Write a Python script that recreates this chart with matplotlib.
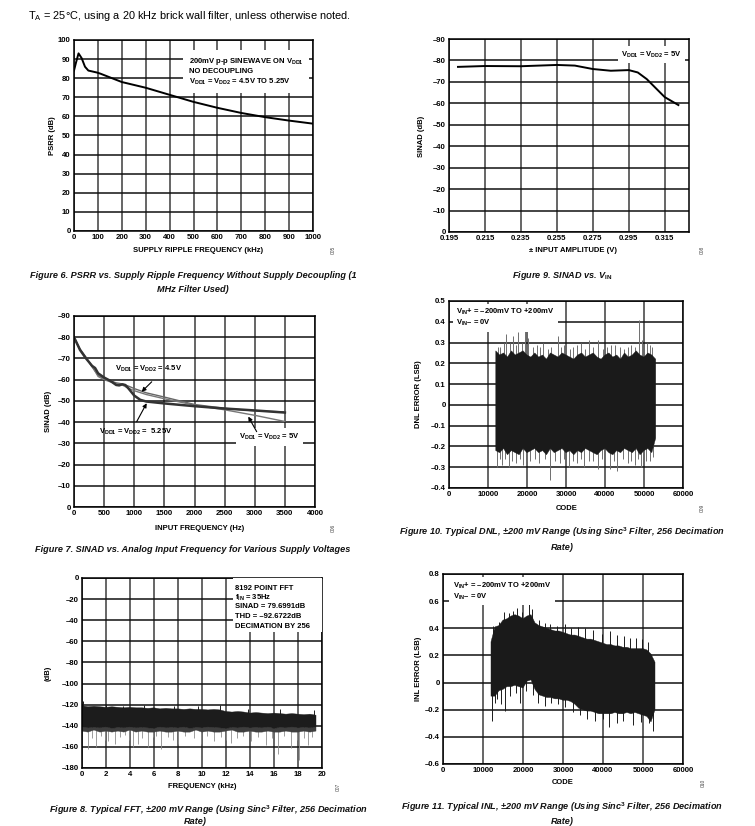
import numpy as np
import matplotlib
matplotlib.use("Agg")
import matplotlib.pyplot as plt
from matplotlib.patches import Rectangle

plt.rcParams['font.family'] = ['Liberation Sans', 'DejaVu Sans']
plt.rcParams['mathtext.fontset'] = 'custom'
plt.rcParams['mathtext.rm'] = 'Liberation Sans'
plt.rcParams['mathtext.bf'] = 'Liberation Sans:bold'
plt.rcParams['mathtext.it'] = 'Liberation Sans:italic'
plt.rcParams['mathtext.default'] = 'bf'

NARROW = ['Liberation Sans Narrow', 'Liberation Sans', 'DejaVu Sans']

# --- Figure 6: PSRR vs supply ripple frequency
psrr_f = [0, 8, 19, 32, 46, 60, 95, 110, 200, 300, 400, 500, 600, 700, 800, 900, 1000]
psrr_db = [84, 88, 93, 90.5, 86, 84, 83, 82.4, 78, 75, 71.3, 67.6, 64.5, 61.8, 59.6, 57.8, 56.2]

# --- Figure 9: SINAD vs input amplitude
vin = [0.200, 0.215, 0.235, 0.255, 0.265, 0.275, 0.285, 0.295, 0.300, 0.305, 0.310, 0.315, 0.3226]
sinad_vin = [-77.0, -77.4, -77.3, -77.9, -77.6, -76.0, -75.2, -75.5, -74.4, -71.3, -67.1, -62.9, -59.2]

# --- Figure 7: SINAD vs input frequency
f_525 = [0, 50, 100, 200, 300, 350, 400, 500, 600, 700, 750, 800, 850, 900, 1000, 1100, 1200, 1500, 2000, 2500, 3000, 3500]
s_525 = [-80, -77, -74, -70, -66.5, -65.5, -63, -61, -59.5, -57.5, -57.3, -57.8, -57.5, -56, -52.5, -50.5, -49.7, -48.8, -47.5, -46.4, -45.5, -44.5]
f_45 = [0, 100, 200, 300, 400, 500, 600, 700, 800, 900, 1000, 1200, 1500, 2000, 2500, 3000, 3500]
s_45 = [-80, -74.5, -70.5, -66, -62, -60.5, -59.5, -58.5, -58, -57, -55.8, -53.8, -51.8, -48.3, -46.5, -45.3, -44.8]
f_5 = [0, 100, 200, 300, 400, 500, 600, 700, 800, 900, 1000, 1200, 1500, 2000, 2500, 3000, 3500]
s_5 = [-80, -74, -70, -66.5, -61.5, -60, -59, -58, -57.5, -56, -54.8, -53, -51, -48, -45.8, -43.2, -40.3]

# --- Figure 10: DNL (envelope of the dense trace + visible spikes)
dnl_code = list(range(12000, 53001, 1000))
dnl_hi = [0.26, 0.24, 0.25, 0.23, 0.26, 0.24, 0.25, 0.26, 0.24, 0.23,
          0.25, 0.23, 0.24, 0.22, 0.25, 0.24, 0.23, 0.25, 0.24, 0.23,
          0.22, 0.24, 0.25, 0.23, 0.24, 0.25, 0.23, 0.22, 0.24, 0.25,
          0.23, 0.24, 0.22, 0.25, 0.23, 0.24, 0.26, 0.24, 0.23, 0.25,
          0.24, 0.22]
dnl_lo = [-0.22, -0.23, -0.21, -0.24, -0.22, -0.23, -0.24, -0.21, -0.23, -0.22,
          -0.21, -0.23, -0.22, -0.24, -0.21, -0.23, -0.22, -0.21, -0.23, -0.22,
          -0.24, -0.22, -0.23, -0.21, -0.22, -0.23, -0.24, -0.22, -0.21, -0.23,
          -0.24, -0.22, -0.23, -0.21, -0.22, -0.23, -0.21, -0.24, -0.22, -0.21,
          -0.23, -0.16]
dnl_up_code = [12600, 13200, 14100, 14500, 15600, 16400, 17200, 17800, 18700, 19400, 20300, 21500, 22600,
               23400, 24100, 25300, 26200, 27900, 28800, 29600, 30900, 31800, 32800, 33900, 34900, 35800,
               36800, 38300, 39400, 40500, 41600, 42600, 43800, 44900, 45800, 46700, 47700, 48600, 49500,
               50800, 51500, 52100]
dnl_up_val = [0.28, 0.28, 0.30, 0.34, 0.30, 0.33, 0.29, 0.35, 0.30, 0.36, 0.32, 0.28, 0.29,
              0.28, 0.30, 0.27, 0.28, 0.33, 0.28, 0.29, 0.27, 0.28, 0.29, 0.30, 0.27, 0.31,
              0.28, 0.31, 0.27, 0.28, 0.29, 0.29, 0.28, 0.27, 0.28, 0.29, 0.28, 0.41, 0.31,
              0.30, 0.29, 0.28]
dnl_dn_code = [12400, 13100, 13600, 14400, 15300, 16200, 17100, 18100, 18900, 19900, 20800, 22100, 23200,
               24500, 26000, 27300, 28400, 29500, 30700, 31800, 32900, 33800, 34600, 35800, 36900, 38100,
               39200, 40100, 41200, 42200, 43100, 44600, 45800, 46700, 47600, 48400, 49300, 50400, 51500,
               52400]
dnl_dn_val = [-0.30, -0.26, -0.29, -0.26, -0.30, -0.27, -0.28, -0.26, -0.29, -0.27, -0.27, -0.26, -0.28,
              -0.26, -0.36, -0.27, -0.28, -0.26, -0.30, -0.27, -0.28, -0.26, -0.30, -0.27, -0.27, -0.31,
              -0.26, -0.28, -0.31, -0.27, -0.32, -0.26, -0.28, -0.27, -0.29, -0.26, -0.30, -0.27, -0.27,
              -0.25]

# --- Figure 8: FFT noise floor (envelope + spikes)
fft_f = [i * 0.5 for i in range(40)]
fft_hi = [-121, -122, -121.5, -122, -122.5, -122, -122.5, -123, -122.5, -123,
          -123, -123.5, -123, -124, -123.5, -124, -124, -124.5, -124, -124.5,
          -124.5, -125, -124.5, -125, -126.5, -127, -126.5, -127, -128, -127.5,
          -128, -128.5, -128, -128.5, -129, -128.5, -129, -129.5, -129, -130]
fft_lo = [-141, -142, -141.5, -142, -141, -142.5, -141.5, -142, -141, -142,
          -141.5, -142, -142.5, -141, -142, -141.5, -142, -141, -142.5, -141.5,
          -142, -141, -141.5, -142, -142.5, -141.5, -142, -141, -142, -141.5,
          -142, -141, -142.5, -141.5, -142, -141, -142, -141.5, -142, -141]
fft_floor = [-145, -146, -144, -146, -145, -146, -145, -146, -144, -146,
             -145, -146, -146, -145, -146, -146, -145, -146, -146, -144,
             -146, -145, -146, -146, -145, -144, -146, -146, -145, -146,
             -146, -145, -146, -146, -145, -146, -146, -145, -146, -145]
fft_dn_f = [0.47, 0.8, 1.14, 1.6, 1.9, 2.2, 2.75, 3.2, 3.6, 3.9, 4.28, 4.7, 5.0, 5.5, 5.9, 6.2, 6.6, 7.2,
            7.6, 8.0, 8.6, 9.3, 9.9, 10.4, 11.0, 11.6, 12.0, 12.4, 12.9, 13.4, 14.1, 14.7, 15.3, 15.8,
            16.3, 16.8, 17.4, 17.9, 18.1, 18.5, 18.8, 19.2]
fft_dn_db = [-162, -152, -160, -150, -153, -154, -157, -151, -149, -153, -160, -157, -152, -160, -151, -150,
             -162, -151, -153, -157, -150, -152, -157, -150, -154, -151, -153, -156, -152, -150, -154, -151,
             -158, -152, -167, -150, -161, -153, -172, -152, -158, -151]
fft_up_f = [0.05, 2.0, 3.4, 5.2, 7.7, 9.7, 11.5, 13.8, 16.5, 19.3]
fft_up_db = [-116.5, -120, -121, -120, -121, -121, -120, -124, -124, -125]

# --- Figure 11: INL (envelope + spikes)
inl_code = list(range(12000, 53001, 1000))
inl_hi = [0.30, 0.41, 0.42, 0.46, 0.47, 0.49, 0.50, 0.49, 0.47, 0.49,
          0.50, 0.44, 0.42, 0.41, 0.40, 0.39, 0.38, 0.38, 0.37, 0.36,
          0.35, 0.35, 0.34, 0.33, 0.32, 0.32, 0.31, 0.30, 0.29, 0.28,
          0.28, 0.27, 0.27, 0.26, 0.26, 0.25, 0.25, 0.25, 0.25, 0.24,
          0.21, 0.15]
inl_lo = [-0.10, -0.10, -0.06, -0.05, -0.03, -0.03, -0.02, -0.03, -0.04, 0.01,
          0.02, -0.05, -0.09, -0.10, -0.11, -0.11, -0.12, -0.12, -0.13, -0.13,
          -0.14, -0.16, -0.19, -0.20, -0.21, -0.21, -0.22, -0.23, -0.23, -0.23,
          -0.23, -0.22, -0.23, -0.23, -0.22, -0.23, -0.22, -0.23, -0.24, -0.25,
          -0.29, -0.20]
inl_up_code = [12500, 14000, 15200, 16500, 17400, 18600, 19800, 21500, 22300, 24000, 25500, 26800, 28600,
               30500, 32000, 33800, 35500, 37600, 39800, 41800, 43500, 45200, 46800, 48200, 49800, 51300]
inl_up_val = [0.42, 0.45, 0.52, 0.51, 0.53, 0.55, 0.52, 0.58, 0.54, 0.46, 0.44, 0.43, 0.42,
              0.43, 0.40, 0.41, 0.40, 0.39, 0.36, 0.38, 0.35, 0.34, 0.33, 0.33, 0.32, 0.30]
inl_dn_code = [12200, 12900, 13600, 14600, 15600, 16800, 18200, 19200, 20700, 22500, 23800, 25400, 27000, 28800,
               30500, 32500, 34200, 36000, 38000, 40000, 41500, 43400, 45000, 47500, 49600, 51400, 52600]
inl_dn_val = [-0.28, -0.15, -0.12, -0.16, -0.21, -0.10, -0.08, -0.15, -0.06, -0.09, -0.15, -0.17, -0.15, -0.16,
              -0.18, -0.22, -0.24, -0.27, -0.28, -0.27, -0.33, -0.30, -0.28, -0.31, -0.29, -0.30, -0.36]

W, H = 755, 826
fig = plt.figure(figsize=(W / 100, H / 100), dpi=100)


def add_ax(l, t, r, b):
    return fig.add_axes([l / W, 1 - b / H, (r - l) / W, (b - t) / H])


def ftext(x, y, s, **kw):
    fig.text(x / W, 1 - y / H, s, **kw)


def dash(v, fmt='{:g}'):
    s = fmt.format(abs(v))
    return ('–' + s) if v < 0 else s


def style(ax, xlim, ylim, xticks, yticks, xlabels, ylabels):
    ax.set_xlim(xlim)
    ax.set_ylim(ylim)
    ax.set_xticks(xticks)
    ax.set_yticks(yticks)
    ax.set_xticklabels(xlabels, fontsize=5.6, fontweight='bold')
    ax.set_yticklabels(ylabels, fontsize=5.6, fontweight='bold')
    ax.tick_params(length=0, pad=2.5)
    ax.grid(axis='x', color='#3c3c3c', lw=1.1)
    ax.grid(axis='y', color='#111111', lw=1.1)
    ax.set_axisbelow(True)
    for sp in ax.spines.values():
        sp.set_linewidth(1.1)


def band(ax, x, lo, hi, color):
    # closed polygon between the lower and upper envelope
    ax.fill(list(x) + list(x)[::-1], list(hi) + list(lo)[::-1], facecolor=color,
            edgecolor=color, lw=0.3, zorder=2)


def caption(x, y, s):
    ftext(x, y, s, fontsize=6.6, family=NARROW, style='italic', fontweight='bold',
          ha='center', va='center', color='#111')


def lab(x, y, s, rot=0):
    ftext(x, y, s, rotation=rot, fontsize=5.5, fontweight='bold', ha='center', va='center')


def code_id(x, y, s):
    ftext(x, y, s, rotation=90, fontsize=3.5, color='#444', ha='center', va='center', fontweight='normal')


white = dict(facecolor='white', edgecolor='none', pad=2.5)

# header
ftext(28, 16, r'T$_\mathrm{A}$ = 25°C, using a 20 kHz brick wall filter, unless otherwise noted.',
      fontsize=7.9, family=NARROW, va='center', ha='left', fontweight='normal')

# ---------------- Figure 6
ax1 = add_ax(74, 40, 313, 231)
style(ax1, (0, 1000), (0, 100), range(0, 1001, 100), range(0, 101, 10),
      [str(v) for v in range(0, 1001, 100)], [str(v) for v in range(0, 101, 10)])
ax1.plot(psrr_f, psrr_db, color='black', lw=1.4)
ax1.text(0.48, 0.835, '200mV p-p SINEWAVE ON V$_{DD1}$\nNO DECOUPLING\nV$_{DD1}$ = V$_{DD2}$ = 4.5V TO 5.25V',
         transform=ax1.transAxes, fontsize=5.5, fontweight='bold', va='center', ha='left',
         linespacing=1.25, bbox=dict(facecolor='white', edgecolor='none', pad=4))
lab(52, 136, 'PSRR (dB)', 90)
lab(198, 251, 'SUPPLY RIPPLE FREQUENCY (kHz)')
code_id(333, 250, '005')
caption(193, 275, 'Figure 6. PSRR vs. Supply Ripple Frequency Without Supply Decoupling (1')
caption(193, 289, 'MHz Filter Used)')

# ---------------- Figure 9
ax2 = add_ax(449, 39, 689, 232)
x2t = [0.195, 0.215, 0.235, 0.255, 0.275, 0.295, 0.315]
style(ax2, (0.195, 0.3285), (0, -90), x2t, range(0, -91, -10),
      ['{:.3f}'.format(v) for v in x2t], [dash(v) for v in range(0, -91, -10)])
ax2.plot(vin, sinad_vin, color='black', lw=1.4)
ax2.text(0.97, 0.92, 'V$_{DD1}$ = V$_{DD2}$ = 5V', transform=ax2.transAxes, fontsize=5.5,
         fontweight='bold', ha='right', va='center', bbox=white)
lab(422, 136, 'SINAD (dB)', 90)
lab(573, 251, '± INPUT AMPLITUDE (V)')
code_id(702, 250, '008')
caption(562, 275, 'Figure 9. SINAD vs. V$_{IN}$')

# ---------------- Figure 7
ax3 = add_ax(74, 316, 315, 507)
style(ax3, (0, 4000), (0, -90), range(0, 4001, 500), range(0, -91, -10),
      [str(v) for v in range(0, 4001, 500)], [dash(v) for v in range(0, -91, -10)])
ax3.plot(f_45, s_45, color='#666666', lw=1.0)
ax3.plot(f_5, s_5, color='#777777', lw=1.0)
ax3.plot(f_525, s_525, color='#333333', lw=1.8)
arrow = dict(arrowstyle='-|>', lw=0.8, color='black', mutation_scale=6, shrinkA=0, shrinkB=0)
ax3.text(1245, -65.0, 'V$_{DD1}$ = V$_{DD2}$ = 4.5V', fontsize=5.5, fontweight='bold', ha='center', va='center')
ax3.annotate('', xy=(1123, -54.3), xytext=(1290, -59.0), arrowprops=arrow)
ax3.text(1029, -35.3, 'V$_{DD1}$ = V$_{DD2}$ =  5.25V', fontsize=5.5, fontweight='bold', ha='center', va='center')
ax3.annotate('', xy=(1206, -48.9), xytext=(1040, -40.2), arrowprops=arrow)
ax3.text(3245, -33.0, 'V$_{DD1}$ = V$_{DD2}$ = 5V', fontsize=5.5, fontweight='bold', ha='center', va='center',
         bbox=white)
ax3.annotate('', xy=(2893, -42.6), xytext=(3032, -35.5), arrowprops=arrow)
lab(49, 411, 'SINAD (dB)', 90)
lab(200, 528, 'INPUT FREQUENCY (Hz)')
code_id(333, 528, '006')
caption(193, 550, 'Figure 7. SINAD vs. Analog Input Frequency for Various Supply Voltages')

# ---------------- Figure 10
ax4 = add_ax(449, 301, 683, 488)
y4t = [-0.4, -0.3, -0.2, -0.1, 0, 0.1, 0.2, 0.3, 0.4, 0.5]
style(ax4, (0, 60000), (-0.4, 0.5), range(0, 60001, 10000), y4t,
      [str(v) for v in range(0, 60001, 10000)], [dash(v) for v in y4t])
ax4.vlines(dnl_up_code, 0, dnl_up_val, color='#6e6e6e', lw=0.7, zorder=1.5)
ax4.vlines(dnl_dn_code, 0, dnl_dn_val, color='#6e6e6e', lw=0.7, zorder=1.5)
band(ax4, dnl_code, dnl_lo, dnl_hi, '#1a1a1a')
ax4.text(0.03, 0.91, 'V$_{IN}$+ = –200mV TO +200mV\nV$_{IN}$– = 0V', transform=ax4.transAxes,
         fontsize=5.5, fontweight='bold', ha='left', va='center', linespacing=1.1, bbox=white, zorder=5)
lab(418, 394, 'DNL ERROR (LSB)', 90)
lab(567, 509, 'CODE')
code_id(702, 508, '009')
caption(562, 532, 'Figure 10. Typical DNL, ±200 mV Range (Using Sinc$^3$ Filter, 256 Decimation')
caption(562, 547, 'Rate)')

# ---------------- Figure 8
ax5 = add_ax(82, 578, 322, 768)
style(ax5, (0, 20), (-180, 0), range(0, 21, 2), range(-180, 1, 20),
      [str(v) for v in range(0, 21, 2)], [dash(v) for v in range(-180, 1, 20)])
ax5.vlines(fft_dn_f, -135, fft_dn_db, color='#8c8c8c', lw=0.6, zorder=1.5)
band(ax5, fft_f, fft_floor, fft_lo, '#3e3e3e')
band(ax5, fft_f, fft_lo, fft_hi, '#1c1c1c')
ax5.vlines(fft_up_f, -130, fft_up_db, color='#1c1c1c', lw=0.7, zorder=2)
ax5.add_patch(Rectangle((0.629, 0.716), 0.371, 0.284, transform=ax5.transAxes,
                        facecolor='white', edgecolor='none', zorder=3))
fft_box = ['8192 POINT FFT', 'f$_{IN}$ = 35Hz', 'SINAD = 79.6991dB', 'THD = –92.6722dB', 'DECIMATION BY 256']
for i, s in enumerate(fft_box):
    ftext(235, 588 + 9.5 * i, s, fontsize=5.5, fontweight='bold', ha='left', va='center')
lab(48, 673, '(dB)', 90)
lab(202, 786, 'FREQUENCY (kHz)')
code_id(338, 787, '007')
caption(208, 810, 'Figure 8. Typical FFT, ±200 mV Range (Using Sinc$^3$ Filter, 256 Decimation')
caption(195, 822, 'Rate)')

# ---------------- Figure 11
ax6 = add_ax(443, 574, 683, 764)
y6t = [-0.6, -0.4, -0.2, 0, 0.2, 0.4, 0.6, 0.8]
style(ax6, (0, 60000), (-0.6, 0.8), range(0, 60001, 10000), y6t,
      [str(v) for v in range(0, 60001, 10000)], [dash(v) for v in y6t])
ax6.vlines(inl_up_code, 0.1, inl_up_val, color='#1a1a1a', lw=0.7, zorder=2)
ax6.vlines(inl_dn_code, 0.1, inl_dn_val, color='#1a1a1a', lw=0.7, zorder=2)
band(ax6, inl_code, inl_lo, inl_hi, '#1a1a1a')
ax6.text(0.04, 0.91, 'V$_{IN}$+ = –200mV TO +200mV\nV$_{IN}$– = 0V', transform=ax6.transAxes,
         fontsize=5.5, fontweight='bold', ha='left', va='center', linespacing=1.1, bbox=white, zorder=5)
lab(418, 669, 'INL ERROR (LSB)', 90)
lab(563, 783, 'CODE')
code_id(703, 783, '010')
caption(562, 807, 'Figure 11. Typical INL, ±200 mV Range (Using Sinc$^3$ Filter, 256 Decimation')
caption(562, 821, 'Rate)')

fig.savefig('out.png', dpi=100)
